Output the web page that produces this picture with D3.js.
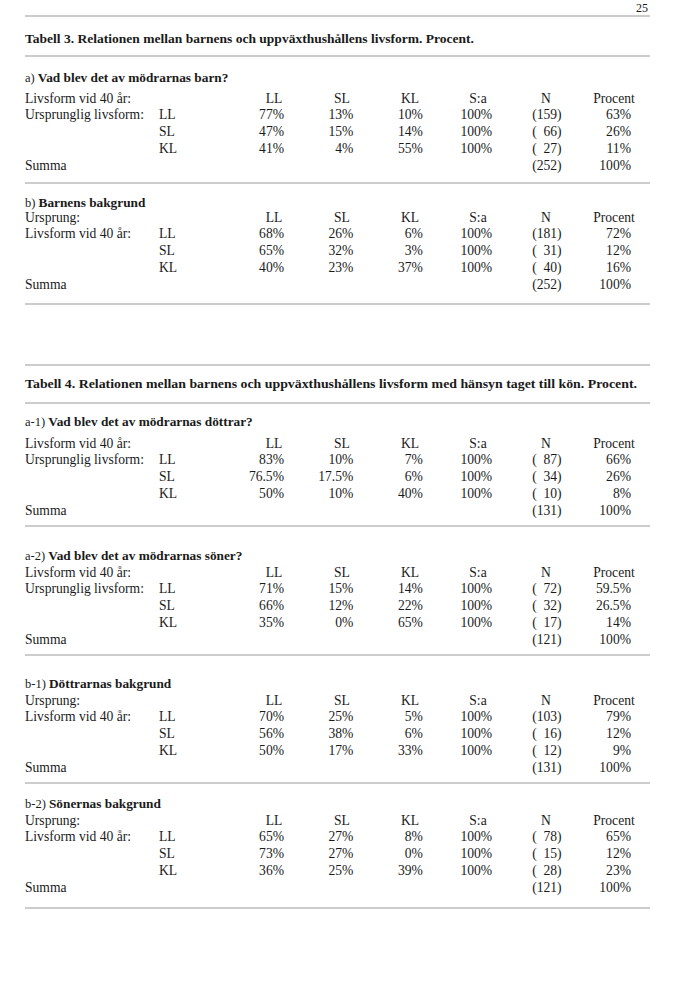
<!DOCTYPE html>
<html>
<head>
<meta charset="utf-8">
<script src="https://cdn.jsdelivr.net/npm/d3@7"></script>
<style>
  html, body { margin: 0; padding: 0; background: #ffffff; }
  svg { display: block; }
  text { font-family: "Liberation Serif", "DejaVu Serif", serif; fill: #1a1a1a; }
</style>
</head>
<body>
<script>
// ---------------- DATA ----------------
const pageNumber = "25";
const tableTitles = [
  "Tabell 3.  Relationen mellan barnens och uppväxthushållens livsform. Procent.",
  "Tabell 4.  Relationen mellan barnens och uppväxthushållens livsform med hänsyn taget till kön. Procent."
];
const columns = ["LL", "SL", "KL", "S:a", "N", "Procent"];
const rowCategories = ["LL", "SL", "KL"];
const totalLabel = "Summa";

const sectionPrefixes = ["a)", "b)", "a-1)", "a-2)", "b-1)", "b-2)"];
const sectionTitles = [
  "Vad blev det av mödrarnas barn?",
  "Barnens bakgrund",
  "Vad blev det av mödrarnas döttrar?",
  "Vad blev det av mödrarnas söner?",
  "Döttrarnas bakgrund",
  "Sönernas bakgrund"
];
const headLabels = ["Livsform vid 40 år:", "Ursprung:", "Livsform vid 40 år:", "Livsform vid 40 år:", "Ursprung:", "Ursprung:"];
const groupLabels = ["Ursprunglig livsform:", "Livsform vid 40 år:", "Ursprunglig livsform:", "Ursprunglig livsform:", "Livsform vid 40 år:", "Livsform vid 40 år:"];

// rows: LL, SL, KL ; columns: LL%, SL%, KL%, S:a%, N, Procent%
const tab3a = [[77, 13, 10, 100, 159, 63], [47, 15, 14, 100, 66, 26], [41, 4, 55, 100, 27, 11]];
const tab3b = [[68, 26, 6, 100, 181, 72], [65, 32, 3, 100, 31, 12], [40, 23, 37, 100, 40, 16]];
const tab4a1 = [[83, 10, 7, 100, 87, 66], [76.5, 17.5, 6, 100, 34, 26], [50, 10, 40, 100, 10, 8]];
const tab4a2 = [[71, 15, 14, 100, 72, 59.5], [66, 12, 22, 100, 32, 26.5], [35, 0, 65, 100, 17, 14]];
const tab4b1 = [[70, 25, 5, 100, 103, 79], [56, 38, 6, 100, 16, 12], [50, 17, 33, 100, 12, 9]];
const tab4b2 = [[65, 27, 8, 100, 78, 65], [73, 27, 0, 100, 15, 12], [36, 25, 39, 100, 28, 23]];
const totalsN = [252, 252, 131, 121, 131, 121];
const totalsPct = [100, 100, 100, 100, 100, 100];
const sectionValues = [tab3a, tab3b, tab4a1, tab4a2, tab4b1, tab4b2];

// ---------------- LAYOUT ----------------
const W = 681, H = 999;
const left = 25, right = 650, rowLabelX = 159;
const fs = 13.6;
const svg = d3.select("body").append("svg").attr("width", W).attr("height", H);

const headX = d3.scalePoint().domain(columns).range([274, 614]);
const valX = d3.scalePoint().domain(columns).range([284, 631]);

const titleY = [38, 383];
const titleWidths = [449, 612];
const tableRules = [[16, 56], [365, 403]];
const subY = [77, 202, 421, 555, 683, 803];
const headY = [98, 217, 443, 572, 700, 820];
const endRuleY = [183, 304, 526, 655, 783, 908];
const rowStep = 16.75;
const base = 4.5;

function rule(y) {
  svg.append("line").attr("x1", left).attr("x2", right).attr("y1", y).attr("y2", y)
    .attr("stroke", "#9a9a9a").attr("stroke-width", 1.2);
}

// page number
svg.append("text").attr("x", 648).attr("y", 12).attr("text-anchor", "end")
  .attr("font-size", 12).attr("fill", "#444").text(pageNumber);

tableTitles.forEach((t, i) => {
  tableRules[i].forEach(rule);
  svg.append("text").attr("x", left).attr("y", titleY[i] + base)
    .attr("font-size", 13.4).attr("font-weight", "bold")
    .attr("textLength", titleWidths[i]).attr("lengthAdjust", "spacingAndGlyphs")
    .text(t);
});

const fmtPct = v => v + "%";
const fmtN = v => "(" + (v < 100 ? "\u2007" : "") + v + ")";

sectionValues.forEach((vals, s) => {
  const rowY = d3.scalePoint().domain(["head", ...rowCategories, "total"])
    .range([headY[s], headY[s] + rowStep * 4]);
  const g = svg.append("g");

  const st = g.append("text").attr("x", left).attr("y", subY[s] + base).attr("font-size", fs);
  st.append("tspan").attr("font-size", 12.5).text(sectionPrefixes[s] + " ");
  st.append("tspan").attr("font-weight", "bold").attr("font-size", 13.3).text(" " + sectionTitles[s]);

  g.append("text").attr("x", left).attr("y", rowY("head") + base).attr("font-size", fs).text(headLabels[s]);
  g.selectAll(".hd").data(columns).join("text")
    .attr("x", d => headX(d)).attr("y", rowY("head") + base)
    .attr("text-anchor", "middle").attr("font-size", fs).text(d => d);

  g.append("text").attr("x", left).attr("y", rowY("LL") + base).attr("font-size", fs).text(groupLabels[s]);

  rowCategories.forEach((rc, r) => {
    g.append("text").attr("x", rowLabelX).attr("y", rowY(rc) + base).attr("font-size", fs).text(rc);
    g.selectAll(".v" + r).data(vals[r]).join("text")
      .attr("x", (d, i) => valX(columns[i])).attr("y", rowY(rc) + base)
      .attr("text-anchor", "end").attr("font-size", fs)
      .text((d, i) => columns[i] === "N" ? fmtN(d) : fmtPct(d));
  });

  g.append("text").attr("x", left).attr("y", rowY("total") + base).attr("font-size", fs).text(totalLabel);
  g.append("text").attr("x", valX("N")).attr("y", rowY("total") + base)
    .attr("text-anchor", "end").attr("font-size", fs).text(fmtN(totalsN[s]));
  g.append("text").attr("x", valX("Procent")).attr("y", rowY("total") + base)
    .attr("text-anchor", "end").attr("font-size", fs).text(fmtPct(totalsPct[s]));

  rule(endRuleY[s]);
});
</script>
</body>
</html>
